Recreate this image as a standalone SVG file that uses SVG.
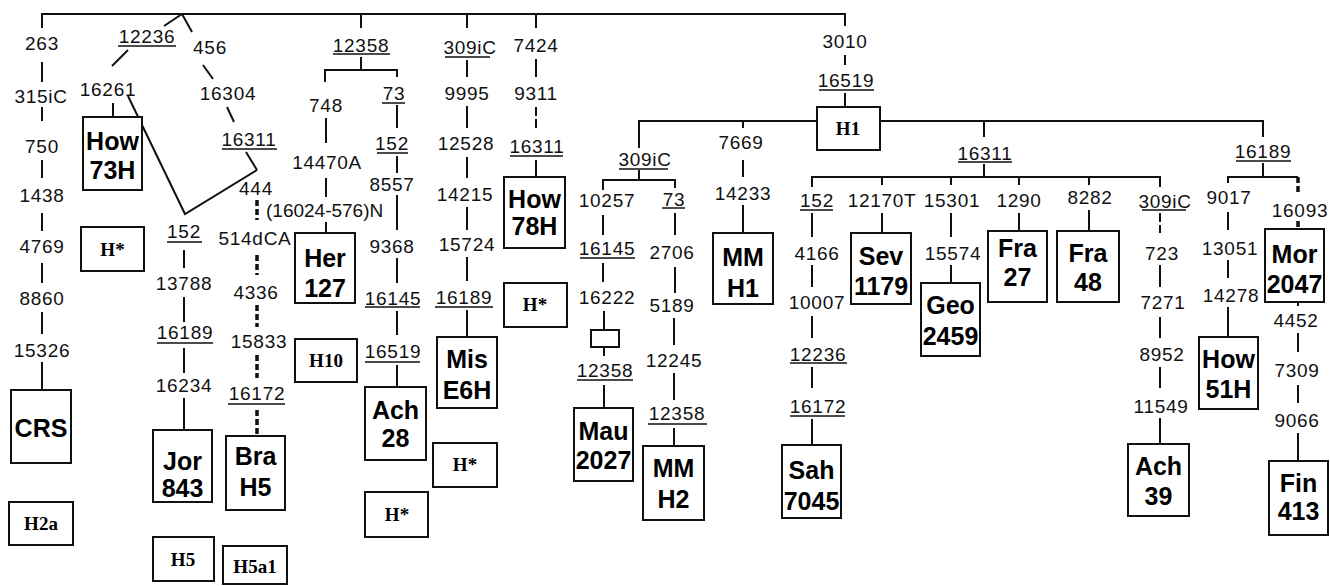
<svg xmlns="http://www.w3.org/2000/svg" width="1330" height="586" viewBox="0 0 1330 586">
<style>
.m{font-family:"Liberation Sans",Arial,sans-serif;font-size:19px;text-anchor:middle;fill:#111;letter-spacing:0.7px}
.b{font-family:"Liberation Sans",Arial,sans-serif;font-size:25px;font-weight:bold;text-anchor:middle;fill:#000}
.s{font-family:"Liberation Serif","Times New Roman",serif;font-size:19px;font-weight:bold;text-anchor:middle;fill:#000}
.l{stroke:#111;stroke-width:2;fill:none}
.u{stroke:#111;stroke-width:1.6}
.d{stroke:#111;stroke-width:2;stroke-dasharray:9 3;fill:none}
.t{stroke:#111;stroke-width:3.5;stroke-dasharray:6 3;fill:none}
.bx{fill:#fff;stroke:#111;stroke-width:2}
</style>
<rect width="1330" height="586" fill="#fff"/>
<g id="connectors">
<path class="l" d="M42,28V14H845V26"/>
<path class="l" d="M361,14V28M467,14V28M536,14V28"/>
<path class="l" d="M42,62V82M42,107V121M42,160V178M42,213V231M42,263V283M42,312V334M42,362V390"/>
<path class="l" d="M182,14L164,26M128,50L112,66M113,103V117"/>
<path class="l" d="M128,96L185,214L257,170"/>
<path class="l" d="M182,14L192,32M203,65L213,79M227,107L234,122M246,152L257,170"/>
<path class="t" d="M257,200V220M257,255V275M257,305V327M257,355V378M257,410V436"/>
<path class="l" d="M184,250V268M184,297V322M184,348V373M184,398V430"/>
<path class="l" d="M361,57V70M325,82V70H397V77M326,118V143M326,178V197M326,222V233"/>
<path class="l" d="M397,105V128M397,156V173M397,195V230M397,258V283M397,311V335M397,365V387"/>
<path class="l" d="M467,60V77M467,106V128M467,157V178M467,207V230M467,257V281M467,310V337"/>
<path class="l" d="M536,59V77M536,160V177"/>
<path class="d" d="M536,107V130"/>
<path class="l" d="M845,55V65M845,93V107"/>
<path class="l" d="M639,148V121H817M880,121H1263V137M743,121V128M984,121V137"/>
<path class="l" d="M639,170V180M603,190V180H675V188"/>
<path class="l" d="M603,215V235M603,263V282M604,311V330M604,347V356M604,385V408"/>
<path class="l" d="M675,213V235M675,267V293M674,318V345M674,373V400M674,428V446"/>
<path class="l" d="M743,160V177M743,205V233"/>
<path class="l" d="M984,164V177M812,187V177H1160V187M882,177V185M951,177V185M1019,177V185M1089,177V185"/>
<path class="l" d="M812,213V237M812,265V287M812,316V338M812,367V388M812,419V445"/>
<path class="l" d="M882,213V233M951,213V237M951,265V283M1019,213V231M1089,210V231"/>
<path class="d" d="M1160,213V233"/>
<path class="l" d="M1160,265V287M1160,317V338M1160,367V388M1160,418V444"/>
<path class="l" d="M1263,163V177M1228,183V177H1298"/>
<path class="t" d="M1298,177V193M1298,221V227"/>
<path class="l" d="M1228,212V230M1228,260V278M1228,307V337"/>
<path class="l" d="M1298,302V306M1298,333V352M1298,385V403M1298,433V461"/>
</g>
<g id="underlines">
<path class="u" d="M118,46H176M222,149H277M228,404H285M167,242H202M157,343H213M333,54H390M382,103H405M377,153H408M365,307H420M365,362H420M445,57H490M435,307H493M510,156H563M819,90H874M619,169H668M662,208H685M580,258H635M577,380H633M648,424H707M958,162H1012M800,210H833M790,363H847M790,416H845M1142,210H1186M1236,161H1291"/>
</g>
<g id="mutations">
<text class="m" x="42" y="50">263</text>
<text class="m" x="41" y="103">315iC</text>
<text class="m" x="42" y="153">750</text>
<text class="m" x="42" y="202">1438</text>
<text class="m" x="42" y="253">4769</text>
<text class="m" x="42" y="305">8860</text>
<text class="m" x="42" y="357">15326</text>
<text class="m" x="147" y="43">12236</text>
<text class="m" x="108" y="96">16261</text>
<text class="m" x="210" y="54">456</text>
<text class="m" x="228" y="100">16304</text>
<text class="m" x="249" y="146">16311</text>
<text class="m" x="256" y="195">444</text>
<text class="m" x="266" y="217" style="text-anchor:start;letter-spacing:0">(16024-576)N</text>
<text class="m" x="255" y="245">514dCA</text>
<text class="m" x="256" y="299">4336</text>
<text class="m" x="259" y="348">15833</text>
<text class="m" x="257" y="400">16172</text>
<text class="m" x="184" y="238">152</text>
<text class="m" x="184" y="290">13788</text>
<text class="m" x="185" y="339">16189</text>
<text class="m" x="184" y="392">16234</text>
<text class="m" x="361" y="52">12358</text>
<text class="m" x="326" y="112">748</text>
<text class="m" x="394" y="100">73</text>
<text class="m" x="327" y="169">14470A</text>
<text class="m" x="392" y="150">152</text>
<text class="m" x="392" y="191">8557</text>
<text class="m" x="392" y="253">9368</text>
<text class="m" x="393" y="305">16145</text>
<text class="m" x="393" y="358">16519</text>
<text class="m" x="470" y="54">309iC</text>
<text class="m" x="467" y="100">9995</text>
<text class="m" x="466" y="150">12528</text>
<text class="m" x="465" y="201">14215</text>
<text class="m" x="467" y="251">15724</text>
<text class="m" x="464" y="304">16189</text>
<text class="m" x="536" y="52">7424</text>
<text class="m" x="536" y="100">9311</text>
<text class="m" x="537" y="153">16311</text>
<text class="m" x="845" y="48">3010</text>
<text class="m" x="846" y="87">16519</text>
<text class="m" x="645" y="166">309iC</text>
<text class="m" x="607" y="207">10257</text>
<text class="m" x="674" y="206">73</text>
<text class="m" x="607" y="255">16145</text>
<text class="m" x="607" y="304">16222</text>
<text class="m" x="605" y="377">12358</text>
<text class="m" x="672" y="259">2706</text>
<text class="m" x="672" y="312">5189</text>
<text class="m" x="674" y="367">12245</text>
<text class="m" x="677" y="420">12358</text>
<text class="m" x="741" y="149">7669</text>
<text class="m" x="743" y="200">14233</text>
<text class="m" x="985" y="160">16311</text>
<text class="m" x="817" y="207">152</text>
<text class="m" x="817" y="260">4166</text>
<text class="m" x="817" y="309">10007</text>
<text class="m" x="818" y="361">12236</text>
<text class="m" x="818" y="413">16172</text>
<text class="m" x="882" y="207">12170T</text>
<text class="m" x="952" y="207">15301</text>
<text class="m" x="953" y="260">15574</text>
<text class="m" x="1019" y="207">1290</text>
<text class="m" x="1090" y="204">8282</text>
<text class="m" x="1165" y="208">309iC</text>
<text class="m" x="1162" y="260">723</text>
<text class="m" x="1163" y="309">7271</text>
<text class="m" x="1162" y="361">8952</text>
<text class="m" x="1161" y="413">11549</text>
<text class="m" x="1263" y="158">16189</text>
<text class="m" x="1229" y="204">9017</text>
<text class="m" x="1230" y="255">13051</text>
<text class="m" x="1231" y="302">14278</text>
<text class="m" x="1300" y="217">16093</text>
<text class="m" x="1296" y="327">4452</text>
<text class="m" x="1297" y="377">7309</text>
<text class="m" x="1297" y="427">9066</text>
</g>
<g id="n-crs"><rect class="bx" x="11" y="390" width="60" height="73"/><text class="b" x="41" y="437">CRS</text></g>
<g id="n-h2a"><rect class="bx" x="9" y="502" width="64" height="43"/><text class="s" x="41" y="530">H2a</text></g>
<g id="n-how73h"><rect class="bx" x="83" y="117" width="59" height="73"/><text class="b" x="112.5" y="150">How</text><text class="b" x="112.5" y="179">73H</text></g>
<g id="n-hstar1"><rect class="bx" x="81" y="227" width="63" height="44"/><text class="s" x="112.5" y="256">H*</text></g>
<g id="n-jor843"><rect class="bx" x="153" y="430" width="59" height="72"/><text class="b" x="182.5" y="470">Jor</text><text class="b" x="182.5" y="497">843</text></g>
<g id="n-h5"><rect class="bx" x="153" y="537" width="61" height="44"/><text class="s" x="183" y="566">H5</text></g>
<g id="n-brah5"><rect class="bx" x="226" y="436" width="59" height="74"/><text class="b" x="255.5" y="465">Bra</text><text class="b" x="255.5" y="496">H5</text></g>
<g id="n-h5a1"><rect class="bx" x="223" y="546" width="64" height="38"/><text class="s" x="255" y="573">H5a1</text></g>
<g id="n-her127"><rect class="bx" x="295" y="233" width="60" height="70"/><text class="b" x="325" y="267">Her</text><text class="b" x="325" y="297">127</text></g>
<g id="n-h10"><rect class="bx" x="295" y="339" width="62" height="43"/><text class="s" x="326" y="367">H10</text></g>
<g id="n-ach28"><rect class="bx" x="365" y="387" width="61" height="73"/><text class="b" x="395.5" y="419">Ach</text><text class="b" x="395.5" y="447">28</text></g>
<g id="n-hstar2"><rect class="bx" x="365" y="492" width="63" height="45"/><text class="s" x="397" y="521">H*</text></g>
<g id="n-mise6h"><rect class="bx" x="437" y="337" width="60" height="71"/><text class="b" x="467" y="368">Mis</text><text class="b" x="467" y="399">E6H</text></g>
<g id="n-hstar3"><rect class="bx" x="433" y="443" width="64" height="44"/><text class="s" x="465" y="471">H*</text></g>
<g id="n-how78h"><rect class="bx" x="504" y="177" width="61" height="71"/><text class="b" x="534.5" y="208">How</text><text class="b" x="534.5" y="235">78H</text></g>
<g id="n-hstar4"><rect class="bx" x="504" y="283" width="63" height="44"/><text class="s" x="535" y="311">H*</text></g>
<g id="n-h1"><rect class="bx" x="817" y="107" width="63" height="43"/><text class="s" x="848" y="135">H1</text></g>
<g id="n-small"><rect class="bx" x="591" y="330" width="28" height="17"/></g>
<g id="n-mau2027"><rect class="bx" x="574" y="408" width="59" height="73"/><text class="b" x="603.5" y="440">Mau</text><text class="b" x="603.5" y="469">2027</text></g>
<g id="n-mmh2"><rect class="bx" x="643" y="446" width="61" height="74"/><text class="b" x="673.5" y="477">MM</text><text class="b" x="673.5" y="508">H2</text></g>
<g id="n-mmh1"><rect class="bx" x="713" y="233" width="60" height="71"/><text class="b" x="743" y="266">MM</text><text class="b" x="743" y="297">H1</text></g>
<g id="n-sah7045"><rect class="bx" x="782" y="445" width="59" height="73"/><text class="b" x="811.5" y="479">Sah</text><text class="b" x="811.5" y="510">7045</text></g>
<g id="n-sev1179"><rect class="bx" x="851" y="233" width="60" height="71"/><text class="b" x="881" y="265">Sev</text><text class="b" x="881" y="295">1179</text></g>
<g id="n-geo2459"><rect class="bx" x="921" y="283" width="59" height="73"/><text class="b" x="950.5" y="314">Geo</text><text class="b" x="950.5" y="345">2459</text></g>
<g id="n-fra27"><rect class="bx" x="988" y="231" width="59" height="71"/><text class="b" x="1017.5" y="257">Fra</text><text class="b" x="1017.5" y="286">27</text></g>
<g id="n-fra48"><rect class="bx" x="1057" y="231" width="62" height="71"/><text class="b" x="1088" y="262">Fra</text><text class="b" x="1088" y="291">48</text></g>
<g id="n-ach39"><rect class="bx" x="1128" y="444" width="61" height="72"/><text class="b" x="1158.5" y="475">Ach</text><text class="b" x="1158.5" y="505">39</text></g>
<g id="n-how51h"><rect class="bx" x="1199" y="337" width="59" height="72"/><text class="b" x="1228.5" y="368">How</text><text class="b" x="1228.5" y="398">51H</text></g>
<g id="n-mor2047"><rect class="bx" x="1265" y="229" width="59" height="73"/><text class="b" x="1294.5" y="263">Mor</text><text class="b" x="1294.5" y="293">2047</text></g>
<g id="n-fin413"><rect class="bx" x="1269" y="461" width="59" height="74"/><text class="b" x="1298.5" y="492">Fin</text><text class="b" x="1298.5" y="520">413</text></g>
</svg>
